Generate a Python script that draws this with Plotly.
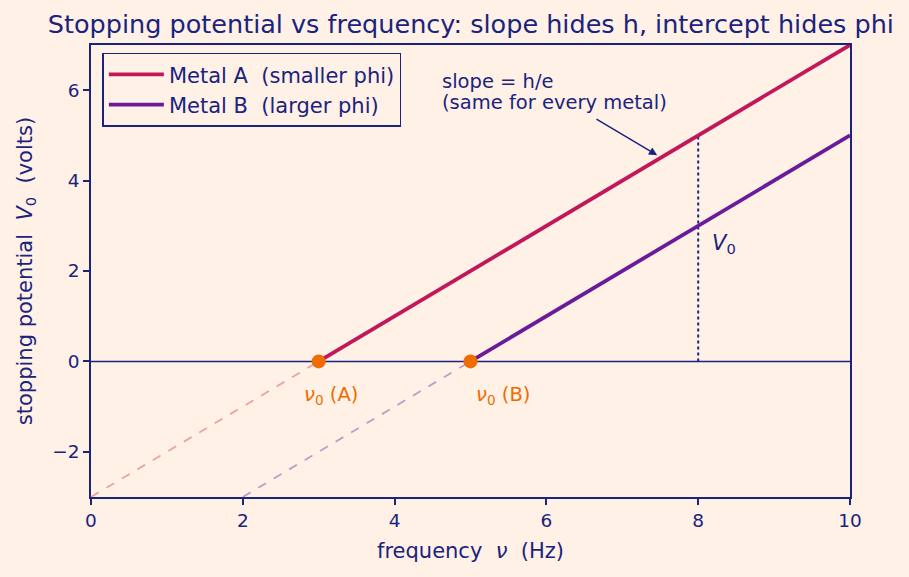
import plotly.graph_objects as go

# data
nu_A_solid = [3, 10]
V_A_solid = [0, 7]
nu_A_ext = [0, 3]
V_A_ext = [-3, 0]
nu_B_solid = [5, 10]
V_B_solid = [0, 5]
nu_B_ext = [2, 5]
V_B_ext = [-3, 0]
nu0_points = [3, 5]
nu0_values = [0, 0]
x_ticks = [0, 2, 4, 6, 8, 10]
y_ticks = [-2, 0, 2, 4, 6]
y_ticktext = ["−2", "0", "2", "4", "6"]

BG = "#FFF1E6"
NAVY = "#1A237E"
CRIMSON = "#C2185B"
PURPLE = "#6A1B9A"
ORANGE = "#EF6C00"
FONT = "DejaVu Sans"

fig = go.Figure()

fig.add_trace(go.Scatter(x=nu_A_ext, y=V_A_ext, mode="lines",
                         line=dict(color="#E0787F", width=1.8, dash="dash"),
                         opacity=0.65, showlegend=False, hoverinfo="skip"))
fig.add_trace(go.Scatter(x=nu_B_ext, y=V_B_ext, mode="lines",
                         line=dict(color=PURPLE, width=1.8, dash="dash"),
                         opacity=0.4, showlegend=False, hoverinfo="skip"))
fig.add_trace(go.Scatter(x=[0, 10], y=[0, 0], mode="lines",
                         line=dict(color=NAVY, width=1.5), showlegend=False, hoverinfo="skip"))
fig.add_trace(go.Scatter(x=[8, 8], y=[0, 5], mode="lines",
                         line=dict(color=NAVY, width=2, dash="dot"), showlegend=False, hoverinfo="skip"))
fig.add_trace(go.Scatter(x=nu_A_solid, y=V_A_solid, mode="lines",
                         line=dict(color=CRIMSON, width=3.8), name="Metal A  (smaller phi)"))
fig.add_trace(go.Scatter(x=nu_B_solid, y=V_B_solid, mode="lines",
                         line=dict(color=PURPLE, width=3.8), name="Metal B  (larger phi)"))
fig.add_trace(go.Scatter(x=nu0_points, y=nu0_values, mode="markers",
                         marker=dict(color=ORANGE, size=14), showlegend=False))

fig.add_annotation(x=3.16, y=-0.75, text="<i>ν</i><sub>0</sub> (A)", showarrow=False,
                   font=dict(color=ORANGE, size=19.5, family=FONT), xanchor="center", yanchor="middle")
fig.add_annotation(x=5.43, y=-0.75, text="<i>ν</i><sub>0</sub> (B)", showarrow=False,
                   font=dict(color=ORANGE, size=19.5, family=FONT), xanchor="center", yanchor="middle")
fig.add_annotation(x=8.15, y=2.6, text="<i>V</i><sub>0</sub>", showarrow=False,
                   font=dict(color=NAVY, size=21, family=FONT), xanchor="left", yanchor="middle")
fig.add_annotation(x=4.6, y=6.19, text="slope = h/e", showarrow=False,
                   align="left", font=dict(color=NAVY, size=19.5, family=FONT),
                   xanchor="left", yanchor="middle")
fig.add_annotation(x=4.6, y=5.72, text="(same for every metal)", showarrow=False,
                   align="left", font=dict(color=NAVY, size=19.5, family=FONT),
                   xanchor="left", yanchor="middle")
fig.add_annotation(x=7.46, y=4.56, ax=6.64, ay=5.38, axref="x", ayref="y", text="",
                   showarrow=True, arrowhead=2, arrowsize=1.1, arrowwidth=1.5, arrowcolor=NAVY)

fig.update_layout(
    width=909, height=577,
    margin=dict(l=91, r=59, t=45, b=80),
    paper_bgcolor=BG, plot_bgcolor=BG,
    font=dict(family=FONT, color=NAVY, size=18),
    title=dict(text="Stopping potential vs frequency: slope hides h, intercept hides phi",
               x=0.518, xanchor="center", y=0.958, yanchor="middle",
               font=dict(size=25.5, color=NAVY, family=FONT)),
    legend=dict(x=0.015, y=0.983, xanchor="left", yanchor="top",
                bgcolor=BG, bordercolor=NAVY, borderwidth=1.5,
                itemwidth=55, tracegroupgap=0,
                font=dict(size=21, color=NAVY, family=FONT)),
    showlegend=True,
)
fig.update_xaxes(range=[0, 10], tickvals=x_ticks, showgrid=False, zeroline=False,
                 showline=True, linecolor=NAVY, linewidth=1.5, mirror=True,
                 ticks="outside", ticklen=6, tickcolor=NAVY, tickwidth=1.5,
                 tickfont=dict(size=18.5, color=NAVY),
                 title=dict(text="frequency  <i>ν</i>  (Hz)", font=dict(size=21, color=NAVY), standoff=13))
fig.update_yaxes(range=[-3, 7], tickvals=y_ticks, ticktext=y_ticktext,
                 showgrid=False, zeroline=False,
                 showline=True, linecolor=NAVY, linewidth=1.5, mirror=True,
                 ticks="outside", ticklen=6, tickcolor=NAVY, tickwidth=1.5,
                 tickfont=dict(size=18.5, color=NAVY),
                 title=dict(text="stopping potential  <i>V</i><sub>0</sub>  (volts)",
                            font=dict(size=21, color=NAVY), standoff=14))

fig.write_html("out.html")
